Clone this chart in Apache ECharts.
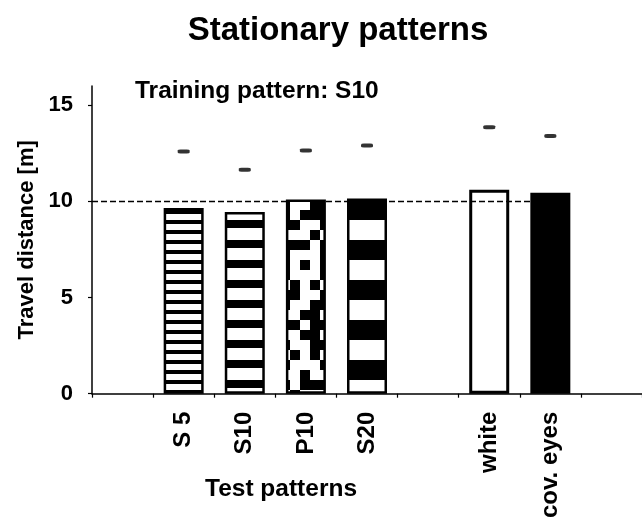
<!DOCTYPE html>
<html><head><meta charset="utf-8">
<script src="https://cdn.jsdelivr.net/npm/echarts@6/dist/echarts.min.js"></script>
<style>html,body{margin:0;padding:0;background:#fff}#c{width:642px;height:521px}</style>
</head><body><div id="c"></div>
<script>
// ---- data ----
const categories = ['', 'S 5', 'S10', 'P10', 'S20', '', 'white', 'cov. eyes', ''];
const meanDistance = [null, 9.65, 9.45, 10.1, 10.15, null, 10.6, 10.45, null];
const upperError = [null, 12.6, 11.65, 12.65, 12.9, null, 13.85, 13.4, null];
const yTickValues = [0, 5, 10, 15];
const referenceDistance = 10;
const referenceEndCategory = 'cov. eyes';
const fillKinds = [null, 'stripes5', 'stripes10', 'checker', 'stripes20', null, 'open', 'solid', null];
const titleText = 'Stationary patterns';
const trainingText = 'Training pattern: S10';
const xAxisTitle = 'Test patterns';
const yAxisTitle = 'Travel distance [m]';

// ---- patterns (style only) ----
const FONT = '"Liberation Sans", Arial, Helvetica, sans-serif';
function stripes(period, dark) {
  const c = document.createElement('canvas');
  c.width = 8; c.height = period;
  const g = c.getContext('2d');
  g.fillStyle = '#fff'; g.fillRect(0, 0, 8, period);
  g.fillStyle = '#000'; g.fillRect(0, 0, 8, dark);
  return { image: c, repeat: 'repeat' };
}
const checkerRows = [
  '1001','1011','1100','0001','1110','1000','1010','1000','0101','1100',
  '1001','0011','1101','0011','1001','0101','1000','0010','1011','0100'
];
function checker(cell) {
  const c = document.createElement('canvas');
  c.width = 4 * cell; c.height = checkerRows.length * cell;
  const g = c.getContext('2d');
  g.fillStyle = '#fff'; g.fillRect(0, 0, c.width, c.height);
  g.fillStyle = '#000';
  checkerRows.forEach((row, r) => {
    for (let k = 0; k < 4; k++) if (row[k] === '1') g.fillRect(k * cell, r * cell, cell, cell);
  });
  return { image: c, repeat: 'repeat' };
}
const fills = {
  stripes5: { color: stripes(10, 4), borderColor: '#000', borderWidth: 2.5 },
  stripes10: { color: stripes(20, 8), borderColor: '#000', borderWidth: 2.5 },
  stripes20: { color: stripes(40, 20), borderColor: '#000', borderWidth: 2.5 },
  checker: { color: checker(10), borderColor: '#000', borderWidth: 2.5 },
  open: { color: 'rgba(255,255,255,0)', borderColor: '#000', borderWidth: 3 },
  solid: { color: '#000', borderColor: '#000', borderWidth: 2.5 }
};

const barData = meanDistance.map((v, i) => ({ value: v, itemStyle: fillKinds[i] ? fills[fillKinds[i]] : {} }));
const refEnd = categories.indexOf(referenceEndCategory) + 0.5;

const chart = echarts.init(document.getElementById('c'), null, { renderer: 'canvas' });
chart.setOption({
  animation: false,
  backgroundColor: '#fff',
  title: [
    { text: titleText, left: 338, top: 14, padding: 0, textAlign: 'center',
      textStyle: { fontFamily: FONT, fontSize: 33, fontWeight: 'bold', color: '#000' } },
    { text: trainingText, left: 135, top: 79, padding: 0,
      textStyle: { fontFamily: FONT, fontSize: 24.5, fontWeight: 'bold', color: '#000' } },
    { text: xAxisTitle, left: 281, top: 477, padding: 0, textAlign: 'center',
      textStyle: { fontFamily: FONT, fontSize: 24.5, fontWeight: 'bold', color: '#000' } }
  ],
  grid: { left: 92, right: -8, top: 86, bottom: 126, containLabel: false },
  xAxis: [
    { type: 'category', data: categories, boundaryGap: true,
      axisLine: { lineStyle: { color: '#000', width: 1.5 } },
      axisTick: { show: true, interval: 0, alignWithLabel: false, length: 4, lineStyle: { color: '#000', width: 1.2 } },
      axisLabel: { interval: 0, rotate: 90, margin: 18, color: '#000', fontFamily: FONT, fontSize: 24, fontWeight: 'bold' },
      splitLine: { show: false } },
    { type: 'value', min: 0, max: categories.length, show: false }
  ],
  yAxis: {
    type: 'value', min: 0, max: 16, interval: 5,
    name: yAxisTitle, nameLocation: 'middle', nameGap: 52,
    nameTextStyle: { fontFamily: FONT, fontSize: 22, fontWeight: 'bold', color: '#000' },
    axisLine: { show: true, lineStyle: { color: '#000', width: 1.5 } },
    axisTick: { show: true, length: 4, customValues: yTickValues, lineStyle: { color: '#000', width: 1.2 } },
    axisLabel: { margin: 19, customValues: yTickValues, color: '#000', fontFamily: FONT, fontSize: 22, fontWeight: 'bold' },
    splitLine: { show: false }
  },
  series: [
    { type: 'line', xAxisIndex: 1, z: 1, silent: true, symbol: 'none',
      data: [[0, referenceDistance], [refEnd, referenceDistance]],
      lineStyle: { color: '#000', width: 1.5, type: [6, 3] } },
    { type: 'bar', xAxisIndex: 0, z: 2, silent: true, barWidth: 40, data: barData },
    { type: 'scatter', xAxisIndex: 0, z: 3, silent: true, symbol: 'roundRect', symbolSize: [12, 4],
      itemStyle: { color: '#000' }, data: upperError }
  ]
});
</script></body></html>
